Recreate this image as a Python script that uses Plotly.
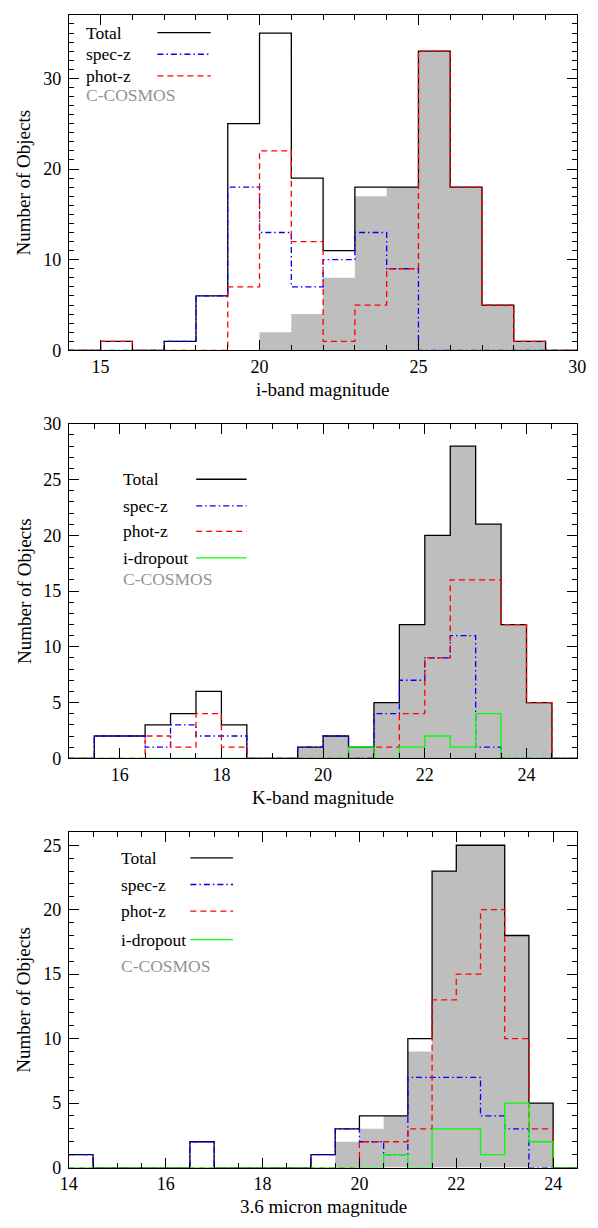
import plotly.graph_objects as go

W, H = 598, 1228
FONT = "Liberation Serif, Times New Roman, serif"

# ---------------- Data ----------------
# Panel 1: i-band magnitude, bins of width 1 from 14 to 30
i_edges = [14, 15, 16, 17, 18, 19, 20, 21, 22, 23, 24, 25, 26, 27, 28, 29, 30]
i_total = [0, 1, 0, 1, 6, 25, 35, 19, 11, 18, 18, 33, 18, 5, 1, 0]
i_specz = [0, 0, 0, 1, 6, 18, 13, 7, 10, 13, 9, 0, 0, 0, 0, 0]
i_photz = [0, 1, 0, 0, 0, 7, 22, 12, 1, 5, 9, 33, 18, 5, 1, 0]
i_ccosmos = [0, 0, 0, 0, 0, 0, 2, 4, 8, 17, 18, 33, 18, 5, 1, 0]

# Panel 2: K-band magnitude, bins of width 0.5 from 15 to 25
k_edges = [15.0, 15.5, 16.0, 16.5, 17.0, 17.5, 18.0, 18.5, 19.0, 19.5, 20.0,
           20.5, 21.0, 21.5, 22.0, 22.5, 23.0, 23.5, 24.0, 24.5, 25.0]
k_total = [0, 2, 2, 3, 4, 6, 3, 0, 0, 1, 2, 1, 5, 12, 20, 28, 21, 12, 5, 0]
k_specz = [0, 2, 2, 1, 3, 2, 2, 0, 0, 1, 2, 0, 4, 7, 9, 11, 1, 0, 0, 0]
k_photz = [0, 0, 0, 2, 1, 4, 1, 0, 0, 0, 0, 0, 1, 4, 9, 16, 16, 12, 5, 0]
k_idrop = [0, 0, 0, 0, 0, 0, 0, 0, 0, 0, 0, 1, 0, 1, 2, 1, 4, 0, 0, 0]
k_ccosmos = [0, 0, 0, 0, 0, 0, 0, 0, 0, 1, 2, 1, 5, 12, 20, 28, 21, 12, 5, 0]

# Panel 3: 3.6 micron magnitude, bins of width 0.5 from 14 to 24.5
m_edges = [14.0, 14.5, 15.0, 15.5, 16.0, 16.5, 17.0, 17.5, 18.0, 18.5, 19.0,
           19.5, 20.0, 20.5, 21.0, 21.5, 22.0, 22.5, 23.0, 23.5, 24.0, 24.5]
m_total = [1, 0, 0, 0, 0, 2, 0, 0, 0, 0, 1, 3, 4, 4, 10, 23, 25, 25, 18, 5, 0]
m_specz = [1, 0, 0, 0, 0, 2, 0, 0, 0, 0, 1, 3, 2, 1, 7, 7, 7, 4, 3, 0, 0]
m_photz = [0, 0, 0, 0, 0, 0, 0, 0, 0, 0, 0, 0, 2, 2, 3, 13, 15, 20, 10, 3, 0]
m_idrop = [0, 0, 0, 0, 0, 0, 0, 0, 0, 0, 0, 0, 0, 1, 0, 3, 3, 1, 5, 2, 0]
m_ccosmos = [0, 0, 0, 0, 0, 0, 0, 0, 0, 0, 0, 2, 3, 4, 9, 23, 25, 25, 18, 5, 0]

x_titles = ["i-band magnitude", "K-band magnitude", "3.6 micron magnitude"]
y_title = "Number of Objects"
legend_labels = ["Total", "spec-z", "phot-z", "i-dropout", "C-COSMOS"]

# ---------------- Styles ----------------
GREY_FILL = "#bebebe"
GREY_TEXT = "#939393"
STYLE = {
    "Total": dict(color="black", dash="solid"),
    "spec-z": dict(color="#0000ff", dash="6px,3px,1.5px,3px"),
    "phot-z": dict(color="#ff0000", dash="6px,4px"),
    "i-dropout": dict(color="#00ff00", dash="solid"),
}
LW = 1.3

panels = [
    dict(edges=i_edges, total=i_total, specz=i_specz, photz=i_photz, idrop=None,
         cc=i_ccosmos, xr=[14, 30], yr=[0, 37], xd=5, xm=1, yd=10, ym=1,
         top=5, bottom=346,
         leg=dict(tx=77, lx0=153, lx1=208, ys=[23, 45, 67, None, 86])),
    dict(edges=k_edges, total=k_total, specz=k_specz, photz=k_photz, idrop=k_idrop,
         cc=k_ccosmos, xr=[15, 25], yr=[0, 30], xd=2, xm=0.5, yd=5, ym=1,
         top=420.7, bottom=760.7,
         leg=dict(tx=115, lx0=193, lx1=245, ys=[477, 504, 530, 557, 578])),
    dict(edges=m_edges, total=m_total, specz=m_specz, photz=m_photz, idrop=m_idrop,
         cc=m_ccosmos, xr=[14, 24.5], yr=[0, 26], xd=2, xm=0.5, yd=5, ym=1,
         top=836, bottom=1176.7,
         leg=dict(tx=113, lx0=187, lx1=231, ys=[862, 889, 916, 945, 972])),
]

X0, X1 = 61.7 / W, 586 / W


def py(y):
    return 1 - y / H


fig = go.Figure()
annotations = []
shapes = []

for i, p in enumerate(panels):
    sfx = "" if i == 0 else str(i + 1)
    xa, ya = "x" + sfx, "y" + sfx

    def step(vals):
        return list(p["edges"]), list(vals) + [vals[-1]]

    ex, ey = step(p["cc"])
    fig.add_trace(go.Scatter(x=ex, y=ey, mode="lines", line=dict(width=0, shape="hv"),
                             fill="tozeroy", fillcolor=GREY_FILL, xaxis=xa, yaxis=ya,
                             showlegend=False, hoverinfo="skip"))
    series = [("Total", p["total"]), ("spec-z", p["specz"]), ("phot-z", p["photz"])]
    if p["idrop"] is not None:
        series.append(("i-dropout", p["idrop"]))
    for name, vals in series:
        sx, sy = step(vals)
        st = STYLE[name]
        fig.add_trace(go.Scatter(x=sx, y=sy, mode="lines", name=name,
                                 line=dict(color=st["color"], dash=st["dash"], width=LW, shape="hv"),
                                 xaxis=xa, yaxis=ya, showlegend=False))

    dom_y = [py(p["bottom"]), py(p["top"])]
    common = dict(showline=True, linecolor="black", linewidth=1, mirror="ticks",
                  ticks="inside", tickcolor="black", tickwidth=1, ticklen=10,
                  showgrid=False, zeroline=False,
                  tickfont=dict(family=FONT, size=18, color="black"))
    fig.layout["xaxis" + sfx] = dict(common, domain=[X0, X1], range=p["xr"], anchor=ya,
                                     tick0=0, dtick=p["xd"], ticklabelstandoff=0,
                                     minor=dict(ticks="inside", ticklen=5, dtick=p["xm"], tick0=0,
                                                tickcolor="black", tickwidth=1))
    fig.layout["yaxis" + sfx] = dict(common, domain=dom_y, range=p["yr"], anchor=xa,
                                     tick0=0, dtick=p["yd"], ticklabelstandoff=3,
                                     minor=dict(ticks="inside", ticklen=5, dtick=p["ym"], tick0=0,
                                                tickcolor="black", tickwidth=1))

    # axis titles
    annotations.append(dict(text=x_titles[i], xref=xa + " domain", yref=ya + " domain",
                            x=0.5, y=0, yshift=-39, xanchor="center", yanchor="middle",
                            showarrow=False, font=dict(family=FONT, size=19, color="black")))
    annotations.append(dict(text=y_title, xref=xa + " domain", yref=ya + " domain",
                            x=0, y=0.5, xshift=-45, xanchor="center", yanchor="middle",
                            textangle=-90, showarrow=False,
                            font=dict(family=FONT, size=19, color="black")))

    # legend
    lg = p["leg"]
    for lab, yy in zip(legend_labels, lg["ys"]):
        if yy is None:
            continue
        col = GREY_TEXT if lab == "C-COSMOS" else "black"
        annotations.append(dict(text=lab, xref="paper", yref="paper", x=lg["tx"] / W, y=py(yy),
                                xanchor="left", yanchor="middle", showarrow=False,
                                font=dict(family=FONT, size=17.5, color=col)))
        if lab in STYLE:
            st = STYLE[lab]
            shapes.append(dict(type="line", xref="paper", yref="paper",
                               x0=lg["lx0"] / W, x1=lg["lx1"] / W, y0=py(yy), y1=py(yy),
                               line=dict(color=st["color"], dash=st["dash"], width=LW)))

fig.update_layout(width=W, height=H, margin=dict(l=0, r=0, t=0, b=0),
                  paper_bgcolor="white", plot_bgcolor="white",
                  annotations=annotations, shapes=shapes, showlegend=False,
                  font=dict(family=FONT, color="black"))

fig.write_html("out.html")
